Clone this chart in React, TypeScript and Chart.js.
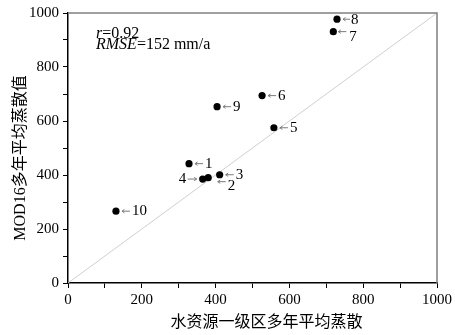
import React, { useEffect, useRef } from "react";
import Chart from "chart.js/auto";

// ---- data ----
const regionIds = ["1", "2", "3", "4", "5", "6", "7", "8", "9", "10"];
const observedET = [328, 380, 411, 365, 558, 526, 719, 729, 404, 130];
const mod16ET = [442, 390, 401, 385, 575, 694, 931, 977, 653, 266];
const oneToOneX = [0, 1000];
const oneToOneY = [0, 1000];
const axisTicks = [0, 200, 400, 600, 800, 1000];
const statR = "0.92";
const statRMSE = "152 mm/a";
const xTitle = "水资源一级区多年平均蒸散";
const yTitle = "MOD16多年平均蒸散值";

// ---- label styling (pixel offsets relative to point) ----
type LabelStyle = { ax1: number; ay1: number; ax2: number; ay2: number; lx: number; ly: number; align: CanvasTextAlign };
const defaultLabel: LabelStyle = { ax1: 14, ay1: 0, ax2: 6, ay2: 0, lx: 16, ly: 0, align: "left" };
const labelStyles: Record<string, Partial<LabelStyle>> = {
  "2": { ax1: 17.5, ay1: 4, ax2: 9.5, ay2: 4, lx: 19.5, ly: 8.5 },
  "4": { ax1: -15, ay1: 0, ax2: -6, ay2: 0, lx: -16.5, ly: 0, align: "right" },
  "7": { ax1: 13, ax2: 5, lx: 16, ly: 5 },
  "8": { ax1: 13, ax2: 6, lx: 14, ly: 1 },
};

const SERIF = "'Liberation Serif', 'Times New Roman', 'Noto Sans CJK SC', serif";

function drawArrow(ctx: CanvasRenderingContext2D, x1: number, y1: number, x2: number, y2: number) {
  const ang = Math.atan2(y2 - y1, x2 - x1);
  const h = 3;
  ctx.beginPath();
  ctx.moveTo(x1, y1);
  ctx.lineTo(x2, y2);
  ctx.stroke();
  ctx.beginPath();
  ctx.moveTo(x2, y2);
  ctx.lineTo(x2 - h * Math.cos(ang - 0.6), y2 - h * Math.sin(ang - 0.6));
  ctx.moveTo(x2, y2);
  ctx.lineTo(x2 - h * Math.cos(ang + 0.6), y2 - h * Math.sin(ang + 0.6));
  ctx.stroke();
}

const overlayPlugin = {
  id: "overlay",
  afterDatasetsDraw(chart: any) {
    const ctx: CanvasRenderingContext2D = chart.ctx;
    const { left, right, top, bottom } = chart.chartArea;
    const xs = chart.scales.x;
    const ys = chart.scales.y;
    ctx.save();
    // frame (top / right)
    ctx.strokeStyle = "#808080";
    ctx.lineWidth = 1.5;
    ctx.beginPath();
    ctx.moveTo(left, top);
    ctx.lineTo(right, top);
    ctx.lineTo(right, bottom);
    ctx.stroke();

    // point labels with arrows
    ctx.font = `15px ${SERIF}`;
    ctx.textBaseline = "middle";
    regionIds.forEach((id, i) => {
      const px = xs.getPixelForValue(observedET[i]);
      const py = ys.getPixelForValue(mod16ET[i]);
      const s = { ...defaultLabel, ...(labelStyles[id] || {}) };
      ctx.strokeStyle = "#7a7a7a";
      ctx.lineWidth = 1;
      drawArrow(ctx, px + s.ax1, py + s.ay1, px + s.ax2, py + s.ay2);
      ctx.fillStyle = "#000";
      ctx.textAlign = s.align;
      ctx.fillText(id, px + s.lx, py + s.ly);
    });

    // statistics text
    ctx.textAlign = "left";
    ctx.fillStyle = "#000";
    const tx = left + 28;
    const ty1 = top + 21;
    const ty2 = top + 32;
    ctx.font = `italic 16px ${SERIF}`;
    ctx.fillText("r", tx, ty1);
    let w = ctx.measureText("r").width;
    ctx.font = `16px ${SERIF}`;
    ctx.fillText("=" + statR, tx + w, ty1);
    ctx.font = `italic 16px ${SERIF}`;
    ctx.fillText("RMSE", tx, ty2);
    w = ctx.measureText("RMSE").width;
    ctx.font = `16px ${SERIF}`;
    ctx.fillText("=" + statRMSE, tx + w, ty2);

    // axis titles
    ctx.font = `16px ${SERIF}`;
    ctx.textAlign = "center";
    ctx.textBaseline = "middle";
    ctx.fillText(xTitle, (left + right) / 2 + 14, bottom + 40);
    ctx.save();
    ctx.translate(21, (top + bottom) / 2 + 10);
    ctx.rotate(-Math.PI / 2);
    ctx.fillText(yTitle, 0, 0);
    ctx.restore();
    ctx.restore();
  },
};

export default function App() {
  const ref = useRef<HTMLCanvasElement | null>(null);
  useEffect(() => {
    document.body.style.margin = "0";
    const canvas = ref.current!;
    const tickLabel = (v: any) => (axisTicks.includes(Number(v)) ? String(v) : "");
    const chart = new Chart(canvas, {
      type: "scatter",
      data: {
        datasets: [
          {
            type: "scatter",
            data: observedET.map((x, i) => ({ x, y: mod16ET[i] })),
            backgroundColor: "#000",
            borderWidth: 0,
            pointRadius: 3.6,
          } as any,
          {
            type: "line",
            data: oneToOneX.map((x, i) => ({ x, y: oneToOneY[i] })),
            borderColor: "#cfcfcf",
            borderWidth: 1,
            pointRadius: 0,
            fill: false,
          } as any,
        ],
      },
      options: {
        responsive: false,
        animation: false,
        devicePixelRatio: 1,
        layout: { padding: { left: 0, right: 17, top: 12, bottom: 0 } },
        plugins: { legend: { display: false }, tooltip: { enabled: false } },
        scales: {
          x: {
            type: "linear",
            min: 0,
            max: 1000,
            afterFit: (s: any) => {
              s.height = 52;
            },
            ticks: {
              stepSize: 100,
              autoSkip: false,
              maxRotation: 0,
              callback: tickLabel,
              color: "#000",
              font: { family: SERIF, size: 15 },
              padding: 3,
            },
            grid: { drawOnChartArea: false, drawTicks: true, tickLength: 5, color: "#000", tickWidth: 1 },
            border: { color: "#000", width: 1.5 },
            title: { display: false, text: xTitle },
          },
          y: {
            type: "linear",
            min: 0,
            max: 1000,
            afterFit: (s: any) => {
              s.width = 68;
            },
            ticks: {
              stepSize: 100,
              autoSkip: false,
              callback: tickLabel,
              color: "#000",
              font: { family: SERIF, size: 15 },
              padding: 4,
            },
            grid: { drawOnChartArea: false, drawTicks: true, tickLength: 5, color: "#000", tickWidth: 1 },
            border: { color: "#000", width: 1.5 },
            title: { display: false, text: yTitle },
          },
        },
      },
      plugins: [overlayPlugin],
    });
    return () => chart.destroy();
  }, []);
  return (
    <div style={{ width: 455, height: 335, background: "#fff" }}>
      <canvas ref={ref} width={455} height={335} style={{ display: "block" }} />
    </div>
  );
}
